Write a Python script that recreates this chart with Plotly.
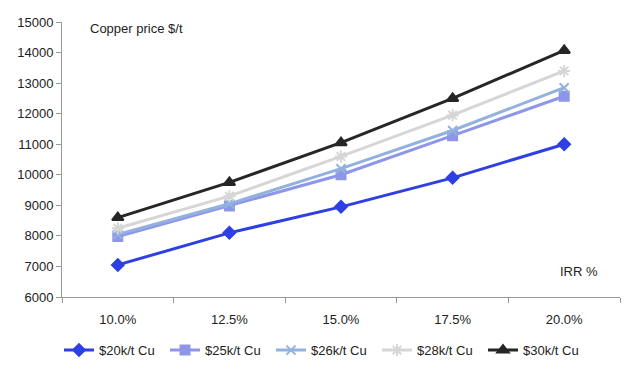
import plotly.graph_objects as go

categories = ["10.0%", "12.5%", "15.0%", "17.5%", "20.0%"]
series_names = ["$20k/t Cu", "$25k/t Cu", "$26k/t Cu", "$28k/t Cu", "$30k/t Cu"]
s20 = [7050, 8100, 8950, 9900, 11000]
s25 = [7980, 8980, 10000, 11280, 12570]
s26 = [8050, 9050, 10200, 11450, 12850]
s28 = [8250, 9300, 10600, 11950, 13400]
s30 = [8600, 9750, 11050, 12500, 14070]
y_ticks = [6000, 7000, 8000, 9000, 10000, 11000, 12000, 13000, 14000, 15000]

colors = ["#2E3FE3", "#8E96EA", "#93B1DD", "#D6D6D6", "#262626"]
symbols = ["diamond", "square", "x-thin", "asterisk", "triangle-up"]
sizes = [9, 9, 9, 10, 10]

fig = go.Figure()
for name, vals, c, s, sz in zip(series_names, [s20, s25, s26, s28, s30], colors, symbols, sizes):
    fig.add_trace(go.Scatter(
        x=categories, y=vals, name=name, mode="lines+markers",
        line=dict(color=c, width=3),
        marker=dict(symbol=s, size=sz, color=c, line=dict(color=c, width=2)),
    ))

fig.add_annotation(text="Copper price $/t", xref="paper", yref="paper", x=0.047, y=1.01,
                   xanchor="left", yanchor="top", showarrow=False,
                   font=dict(size=13, color="#222"))
fig.add_annotation(text="IRR %", xref="paper", yref="paper", x=0.965, y=0.06,
                   xanchor="right", yanchor="bottom", showarrow=False,
                   font=dict(size=13, color="#222"))

fig.update_layout(
    width=632, height=376,
    margin=dict(l=54, r=20, t=14, b=87, autoexpand=False),
    paper_bgcolor="white", plot_bgcolor="white",
    font=dict(family="Liberation Sans, Arial, sans-serif", size=13, color="#222"),
    showlegend=True,
    legend=dict(orientation="h", x=0.5, xanchor="center", xref="container",
                y=0.09, yanchor="middle", yref="container",
                font=dict(size=13), tracegroupgap=0,
                entrywidth=61, entrywidthmode="pixels"),
)
fig.update_xaxes(type="category", showline=True, linecolor="#999", linewidth=1,
                 ticks="outside", tickson="boundaries", ticklen=5, tickcolor="#999",
                 showgrid=False, range=[-0.5, 4.5], ticklabelstandoff=10)
fig.update_yaxes(range=[6000, 15000], tickvals=y_ticks, ticktext=[str(v) for v in y_ticks],
                 showline=True, linecolor="#999",
                 linewidth=1, ticks="outside", ticklen=5, tickcolor="#999",
                 showgrid=False, zeroline=False)

fig.write_html("out.html")
